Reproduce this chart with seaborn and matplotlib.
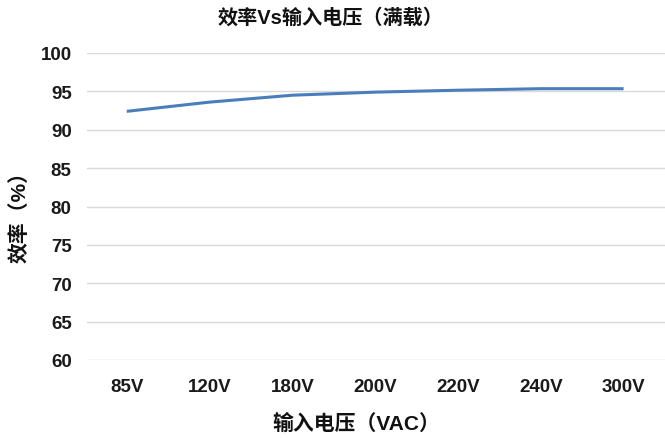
import matplotlib
matplotlib.use("Agg")
import matplotlib.pyplot as plt
import seaborn as sns
import pandas as pd

# Full-load efficiency at each input voltage
voltages = ["85V", "120V", "180V", "200V", "220V", "240V", "300V"]
efficiency = [92.4, 93.6, 94.5, 94.9, 95.15, 95.35, 95.35]
y_ticks = [60, 65, 70, 75, 80, 85, 90, 95, 100]

title = "效率Vs输入电压（满载）"
x_label = "输入电压（VAC）"
y_label = "效率（%）"

sns.set_theme(style="white")
plt.rcParams["font.family"] = ["Liberation Sans", "Noto Sans CJK SC", "DejaVu Sans"]

df = pd.DataFrame({"voltage": voltages, "efficiency": efficiency})
df["pos"] = range(len(voltages))

fig = plt.figure(figsize=(6.65, 4.39), dpi=100)
ax = fig.add_axes([87 / 665, 1 - 361 / 439, 1 - 87 / 665, (361 - 54) / 439])

sns.lineplot(data=df, x="pos", y="efficiency", ax=ax, color="#4a7ebb",
             linewidth=2.2, solid_capstyle="butt")

ax.set_xlim(-0.48, len(voltages) - 0.5)
ax.set_ylim(60, 100)
ax.set_yticks(y_ticks)
ax.set_yticklabels([str(v) for v in y_ticks], fontsize=13.5, fontweight="bold")
ax.set_xticks(df["pos"])
ax.set_xticklabels(voltages, fontsize=13.5, fontweight="bold")
ax.tick_params(axis="both", length=0, colors="#1a1a1a")
ax.tick_params(axis="y", pad=11)
ax.tick_params(axis="x", pad=13)
ax.grid(axis="y", color="#d9d9d9", linewidth=1)
for s in ax.spines.values():
    s.set_visible(False)

ax.set_xlabel("")
ax.set_ylabel("")
fig.text(356 / 665, 1 - 424 / 439, x_label, ha="center", va="center",
         fontsize=15, fontweight="bold", color="#111111")
fig.text(20 / 665, 1 - 212 / 439, y_label, ha="center", va="center",
         rotation=90, fontsize=15, fontweight="bold", color="#111111")
fig.text(331 / 665, 1 - 18 / 439, title, ha="center", va="center",
         fontsize=14.5, fontweight="bold", color="#111111")

fig.savefig("out.png", dpi=100, facecolor="white")
